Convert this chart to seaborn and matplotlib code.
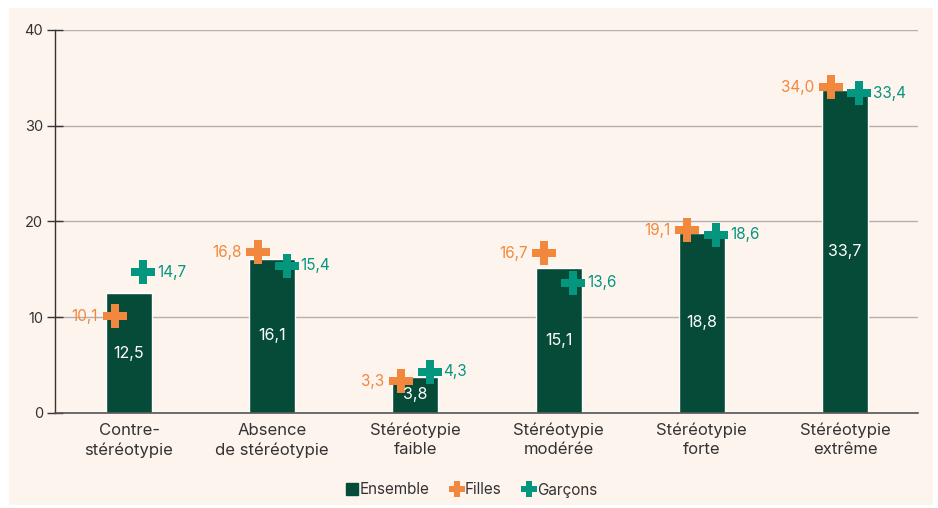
import numpy as np
import matplotlib
matplotlib.use("Agg")
import matplotlib.pyplot as plt
from matplotlib.lines import Line2D
from matplotlib.patches import Rectangle
import seaborn as sns

# données
categories = ["Contre-\nstéréotypie", "Absence\nde stéréotypie", "Stéréotypie\nfaible",
              "Stéréotypie\nmodérée", "Stéréotypie\nforte", "Stéréotypie\nextrême"]
ensemble = [12.5, 16.1, 3.8, 15.1, 18.8, 33.7]
filles = [10.1, 16.8, 3.3, 16.7, 19.1, 34.0]
garcons = [14.7, 15.4, 4.3, 13.6, 18.6, 33.4]

green = "#054b37"
orange = "#f2883e"
teal = "#05967f"
bg = "#fdf4ee"
txt = "#333333"

sns.set_theme(style="white")
plt.rcParams["font.family"] = ["Inter", "DejaVu Sans"]

fig = plt.figure(figsize=(9.38, 5.08), dpi=100, facecolor="white")
fig.patches.append(Rectangle((9 / 938, 3 / 508), 924 / 938, 497 / 508,
                             transform=fig.transFigure, facecolor=bg,
                             edgecolor="none", zorder=-10))
ax = fig.add_axes([55 / 938, 95 / 508, 863 / 938, 383 / 508])
ax.set_facecolor("none")

sns.barplot(x=categories, y=ensemble, color=green, width=0.32,
            saturation=1, ax=ax, zorder=2)

pos = np.arange(len(categories))
off = 0.1
sns.scatterplot(x=pos - off, y=filles, marker="P", s=300, color=orange,
                edgecolor=orange, linewidth=0, ax=ax, zorder=4)
sns.scatterplot(x=pos + off, y=garcons, marker="P", s=300, color=teal,
                edgecolor=teal, linewidth=0, ax=ax, zorder=4)

fmt = lambda v: f"{v:.1f}".replace(".", ",")
for i in range(len(categories)):
    ax.text(i, ensemble[i] / 2, fmt(ensemble[i]), color="white", ha="center",
            va="center", fontsize=11.5, zorder=5)
    ax.annotate(fmt(filles[i]), (i - off, filles[i]), xytext=(-12, 0),
                textcoords="offset points", ha="right", va="center",
                color=orange, fontsize=11, zorder=5)
    ax.annotate(fmt(garcons[i]), (i + off, garcons[i]), xytext=(10, 0),
                textcoords="offset points", ha="left", va="center",
                color=teal, fontsize=11, zorder=5)

ax.set_ylim(0, 40)
ax.set_xlim(-0.517, 5.51)
ax.set_yticks([0, 10, 20, 30, 40])
ax.yaxis.grid(True, color="#b5b0ad", linewidth=1)
ax.set_axisbelow(True)
ax.tick_params(axis="y", direction="inout", length=11, width=1, color="#333333",
               labelsize=10.5, labelcolor=txt, pad=3, left=True)
ax.tick_params(axis="x", length=0, labelsize=12, labelcolor=txt, pad=7)
for lab in ax.get_xticklabels():
    lab.set_linespacing(1.35)
for s in ["top", "right"]:
    ax.spines[s].set_visible(False)
ax.spines["left"].set_color("#333333")
ax.spines["bottom"].set_color("#555555")
ax.spines["left"].set_linewidth(1)
ax.spines["bottom"].set_linewidth(1.2)

handles = [
    Line2D([], [], marker="s", linestyle="none", color=green, markersize=9),
    Line2D([], [], marker="P", linestyle="none", color=orange, markersize=12, markeredgewidth=0),
    Line2D([], [], marker="P", linestyle="none", color=teal, markersize=12, markeredgewidth=0),
]
fig.legend(handles, ["Ensemble", "Filles", "Garçons"], loc="center",
           bbox_to_anchor=(470 / 938, 1 - 490 / 508), ncol=3, frameon=False,
           fontsize=11, handletextpad=-0.1, columnspacing=1.2, labelcolor=txt,
           handlelength=1.2)

fig.savefig("out.png", dpi=100, facecolor=fig.get_facecolor())
